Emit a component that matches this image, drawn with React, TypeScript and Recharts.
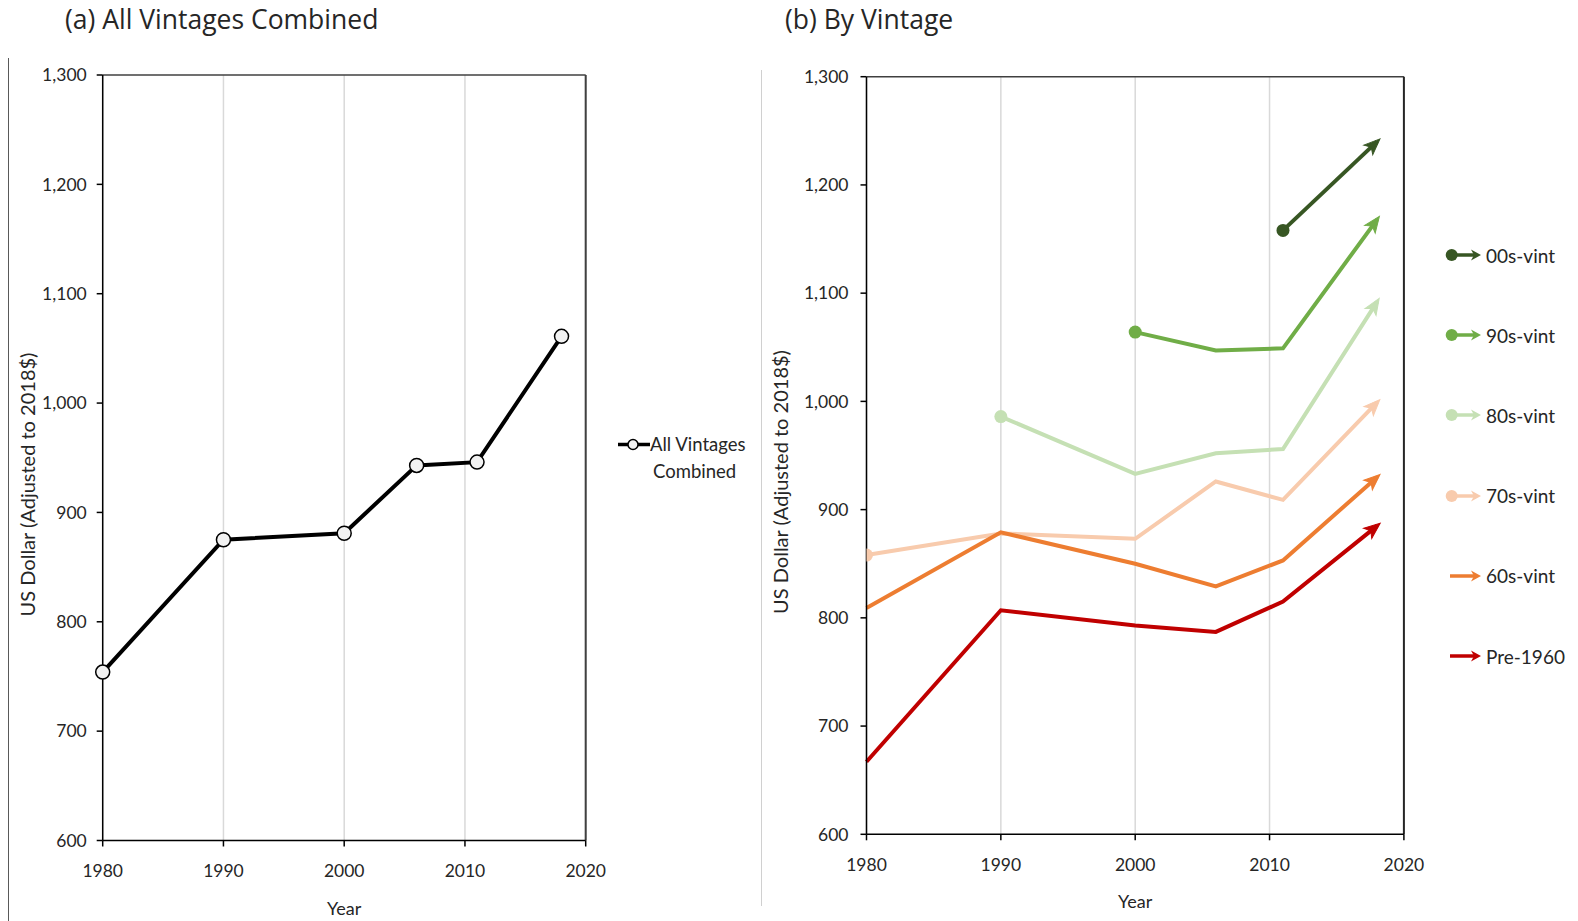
import React from 'react';
import { LineChart, Line, XAxis, YAxis, CartesianGrid, ReferenceLine, Legend } from 'recharts';

// ---------- data ----------
const years = [1980, 1990, 2000, 2006, 2011, 2018];
const allVintagesCombined = [754, 875, 881, 943, 946, 1061];

const vint00s = [null, null, null, null, 1158, 1240];
const vint90s = [null, null, 1064, 1047, 1049, 1168];
const vint80s = [null, 986, 933, 952, 956, 1092];
const vint70s = [858, 878, 873, 926, 909, 999];
const vint60s = [809, 879, 850, 829, 853, 930];
const pre1960 = [667, 807, 793, 787, 815, 885];

const xTicks = [1980, 1990, 2000, 2010, 2020];
const yTicks = [600, 700, 800, 900, 1000, 1100, 1200, 1300];

const seriesKeys = ['v00', 'v90', 'v80', 'v70', 'v60', 'pre'];
const seriesNames = ['00s-vint', '90s-vint', '80s-vint', '70s-vint', '60s-vint', 'Pre-1960'];
const seriesValues = [vint00s, vint90s, vint80s, vint70s, vint60s, pre1960];
const seriesColors = ['#375623', '#70ad47', '#c5e0b4', '#f8cbad', '#ed7d31', '#c00000'];
const seriesStartDots = [true, true, true, true, false, false];

const combinedData = years.map((year, i) => ({ year, all: allVintagesCombined[i] }));
const vintageData = years.map((year, i) => {
  const row: any = { year };
  seriesKeys.forEach((k, s) => {
    row[k] = seriesValues[s][i];
  });
  return row;
});

// ---------- styles ----------
const TICK_FONT = 'Lato, "Noto Sans", sans-serif';
const TITLE_FONT = '"Open Sans", "Noto Sans", sans-serif';
const TEXT = '#262626';
const fmt = (v: number) => v.toLocaleString('en-US');

const tickStyle = { fontFamily: TICK_FONT, fontSize: 17.5, fill: TEXT };

const makeVintageDot = (color: string, startDot: boolean) => (props: any) => {
  const { cx, cy, index, points, value, payload } = props;
  const k = `d-${index}`;
  if (cx == null || cy == null || value == null) return <g key={k} />;
  const pts = points || [];
  const prev = pts[index - 1];
  const next = pts[index + 1];
  const hasPrev = prev && prev.value != null && prev.y != null;
  const hasNext = next && next.value != null && next.y != null;
  if (!hasPrev) {
    if (!startDot) return <g key={k} />;
    const r = 6.5;
    if (payload && payload.year === xTicks[0]) {
      return (
        <path
          key={k}
          d={`M ${cx} ${cy - r} A ${r} ${r} 0 0 1 ${cx} ${cy + r} Z`}
          fill={color}
        />
      );
    }
    return <circle key={k} cx={cx} cy={cy} r={r} fill={color} />;
  }
  if (!hasNext) {
    const ang = (Math.atan2(cy - prev.y, cx - prev.x) * 180) / Math.PI;
    return (
      <g key={k} transform={`translate(${cx},${cy}) rotate(${ang})`}>
        <polygon
          points="4,0 -12,-6.5 -8,0 -12,6.5"
          fill={color}
          stroke={color}
          strokeWidth={1}
          strokeLinejoin="miter"
        />
      </g>
    );
  }
  return <g key={k} />;
};

const CombinedLegend = () => (
  <div style={{ display: 'flex', alignItems: 'flex-start', fontFamily: TICK_FONT, fontSize: 18.5, color: TEXT }}>
    <svg width={35} height={27} style={{ display: 'block' }}>
      <line x1={3} y1={13.5} x2={35} y2={13.5} stroke="#000" strokeWidth={3.5} />
      <circle cx={18} cy={13.5} r={5} fill="#f2f2f2" stroke="#000" strokeWidth={1.5} />
    </svg>
    <div style={{ lineHeight: '27px', marginLeft: 0 }}>
      <div>All Vintages</div>
      <div style={{ paddingLeft: 3 }}>Combined</div>
    </div>
  </div>
);

const VintageLegend = () => (
  <div
    style={{
      position: 'relative',
      width: 130,
      height: 440,
      fontFamily: TICK_FONT,
      fontSize: 19,
      color: TEXT,
    }}
  >
    {seriesNames.map((name, i) => (
      <div
        key={name}
        style={{
          position: 'absolute',
          left: 0,
          top: i * 80.2,
          height: 24,
          display: 'flex',
          alignItems: 'center',
          whiteSpace: 'nowrap',
        }}
      >
        <svg width={40} height={24} style={{ display: 'block' }}>
          <line
            x1={seriesStartDots[i] ? 8 : 6}
            y1={12}
            x2={33}
            y2={12}
            stroke={seriesColors[i]}
            strokeWidth={3.5}
          />
          {seriesStartDots[i] && <circle cx={7.7} cy={12} r={6} fill={seriesColors[i]} />}
          <polygon points="37,12 27,6.5 30,12 27,17.5" fill={seriesColors[i]} />
        </svg>
        <span style={{ marginLeft: 2 }}>{name}</span>
      </div>
    ))}
  </div>
);

const yLabel = (cxAbs: number, cyAbs: number) => (props: any) => {
  const x = cxAbs;
  const y = cyAbs;
  return (
    <text
      x={x}
      y={y}
      transform={`rotate(-90, ${x}, ${y})`}
      textAnchor="middle"
      dominantBaseline="central"
      style={{ fontFamily: TICK_FONT, fontSize: 20, fill: TEXT }}
    >
      US Dollar (Adjusted to 2018$)
    </text>
  );
};

const xLabel = (dy: number) => (props: any) => {
  const vb = props.viewBox;
  return (
    <text
      x={vb.x + vb.width / 2}
      y={vb.y + dy}
      textAnchor="middle"
      dominantBaseline="central"
      style={{ fontFamily: TICK_FONT, fontSize: 18, fill: TEXT }}
    >
      Year
    </text>
  );
};

const titleStyle: React.CSSProperties = {
  position: 'absolute',
  top: -1,
  fontFamily: TITLE_FONT,
  fontSize: 26.5,
  lineHeight: '40px',
  color: TEXT,
  whiteSpace: 'nowrap',
};

export default function App() {
  return (
    <div
      style={{
        position: 'relative',
        width: 1578,
        height: 921,
        margin: '-8px 0 0 -8px',
        background: '#fff',
        overflow: 'hidden',
      }}
    >
      {/* panel separators */}
      <div style={{ position: 'absolute', left: 8, top: 58, width: 1, height: 863, background: '#595959' }} />
      <div style={{ position: 'absolute', left: 761, top: 70, width: 1, height: 836, background: '#d0d0d0' }} />

      {/* titles */}
      <div style={{ ...titleStyle, left: 65 }}>(a) All Vintages Combined</div>
      <div style={{ ...titleStyle, left: 785 }}>(b) By Vintage</div>

      {/* (a) combined */}
      <div style={{ position: 'absolute', left: 0, top: 0 }}>
        <LineChart
          width={760}
          height={921}
          data={combinedData}
          margin={{ top: 75, right: 174.3, bottom: 0, left: 0 }}
        >
          <CartesianGrid horizontal={false} stroke="#d9d9d9" strokeWidth={1.5} />
          <XAxis
            type="number"
            dataKey="year"
            domain={[1980, 2020]}
            ticks={xTicks}
            height={80.5}
            tick={tickStyle}
            tickSize={6}
            tickMargin={18}
            axisLine={{ stroke: '#000', strokeWidth: 1.5 }}
            tickLine={{ stroke: '#000', strokeWidth: 1.5 }}
            label={xLabel(67)}
          />
          <YAxis
            type="number"
            domain={[600, 1300]}
            ticks={yTicks}
            width={102.7}
            tick={tickStyle}
            tickSize={6}
            tickMargin={10}
            tickFormatter={fmt}
            axisLine={{ stroke: '#000', strokeWidth: 1.5 }}
            tickLine={{ stroke: '#000', strokeWidth: 1.5 }}
            label={yLabel(26.5, 484.5)}
          />
          <ReferenceLine y={1300} stroke="#404040" strokeWidth={1.5} />
          <ReferenceLine x={2020} stroke="#404040" strokeWidth={2} />
          <Legend
            layout="horizontal"
            verticalAlign="middle"
            align="center"
            content={() => <CombinedLegend />}
            wrapperStyle={{ left: 615, top: 430.5, width: 145, height: 60 }}
          />
          <Line
            type="linear"
            dataKey="all"
            name="All Vintages Combined"
            stroke="#000"
            strokeWidth={4}
            dot={{ r: 7, fill: '#f2f2f2', stroke: '#000', strokeWidth: 1.5 }}
            activeDot={false}
            isAnimationActive={false}
          />
        </LineChart>
      </div>

      {/* (b) by vintage */}
      <div style={{ position: 'absolute', left: 762, top: 0 }}>
        <LineChart
          width={816}
          height={921}
          data={vintageData}
          margin={{ top: 76.7, right: 174.1, bottom: 0, left: 0 }}
        >
          <CartesianGrid horizontal={false} stroke="#d9d9d9" strokeWidth={1.5} />
          <XAxis
            type="number"
            dataKey="year"
            domain={[1980, 2020]}
            ticks={xTicks}
            height={86.7}
            tick={tickStyle}
            tickSize={6}
            tickMargin={18}
            axisLine={{ stroke: '#000', strokeWidth: 1.5 }}
            tickLine={{ stroke: '#000', strokeWidth: 1.5 }}
            label={xLabel(66.4)}
          />
          <YAxis
            type="number"
            domain={[600, 1300]}
            ticks={yTicks}
            width={104.5}
            tick={tickStyle}
            tickSize={6}
            tickMargin={12}
            tickFormatter={fmt}
            axisLine={{ stroke: '#000', strokeWidth: 1.5 }}
            tickLine={{ stroke: '#000', strokeWidth: 1.5 }}
            label={yLabel(18, 482)}
          />
          <ReferenceLine y={1300} stroke="#404040" strokeWidth={1.5} />
          <ReferenceLine x={2020} stroke="#262626" strokeWidth={2} />
          <Legend
            layout="horizontal"
            verticalAlign="middle"
            align="center"
            content={() => <VintageLegend />}
            wrapperStyle={{ left: 682, top: 243, width: 130, height: 440 }}
          />
          {seriesKeys.map((k, i) => (
            <Line
              key={k}
              type="linear"
              dataKey={k}
              name={seriesNames[i]}
              stroke={seriesColors[i]}
              strokeWidth={4}
              strokeLinecap="butt"
              connectNulls={false}
              dot={makeVintageDot(seriesColors[i], seriesStartDots[i])}
              activeDot={false}
              isAnimationActive={false}
            />
          ))}
        </LineChart>
      </div>
    </div>
  );
}
